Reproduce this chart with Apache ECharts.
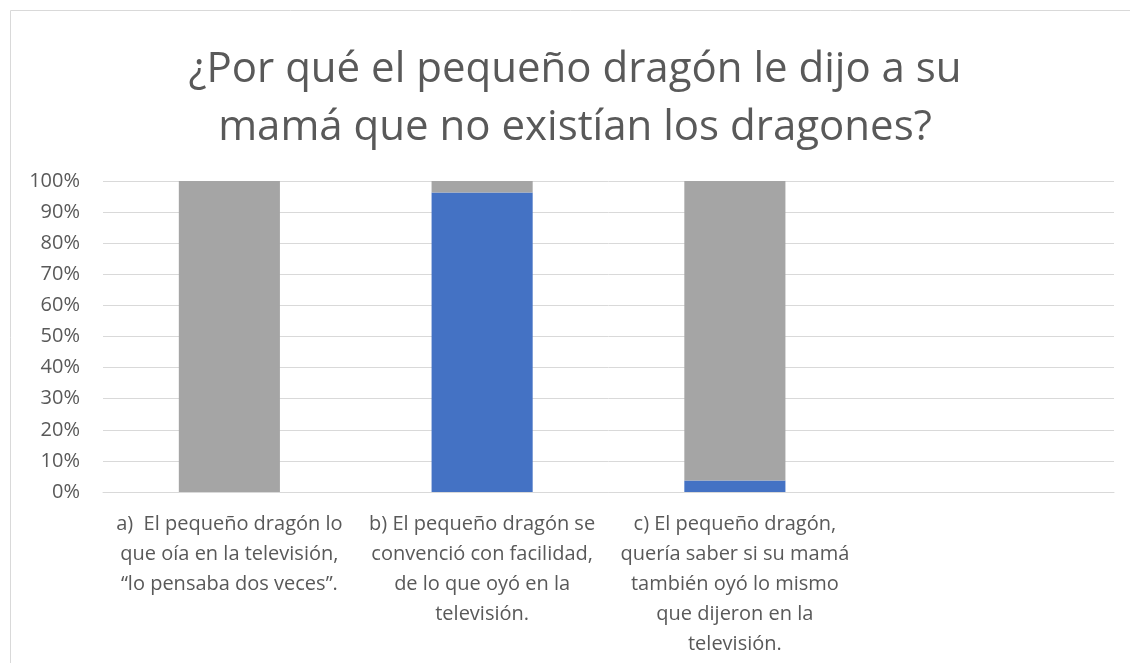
<!DOCTYPE html>
<html><head><meta charset="utf-8">
<script src="https://cdn.jsdelivr.net/npm/echarts@6/dist/echarts.min.js"></script>
<style>html,body{margin:0;padding:0;background:#fff}#c{width:1130px;height:663px}</style>
</head><body><div id="c"></div>
<script>
const titleText = "¿Por qué el pequeño dragón le dijo a su\nmamá que no existían los dragones?";
const categories = [
  "a)  El pequeño dragón lo\nque oía en la televisión,\n“lo pensaba dos veces”.",
  "b) El pequeño dragón se\nconvenció con facilidad,\nde lo que oyó en la\ntelevisión.",
  "c) El pequeño dragón,\nquería saber si su mamá\ntambién oyó lo mismo\nque dijeron en la\ntelevisión.",
  ""
];
const blueValues = [0, 96.3, 3.7, null];
const grayValues = [100, 3.7, 96.3, null];
const yTicks = [0, 10, 20, 30, 40, 50, 60, 70, 80, 90, 100];

const font = "'Open Sans', 'Noto Sans', sans-serif";
const chart = echarts.init(document.getElementById('c'), null, {renderer: 'canvas'});
chart.setOption({
  animation: false,
  textStyle: {fontFamily: font},
  graphic: [{type: 'rect', shape: {x: 10.5, y: 10.5, width: 1200, height: 800}, style: {fill: 'none', stroke: '#d9d9d9', lineWidth: 1}, silent: true}],
  title: {
    text: titleText, left: 570, textAlign: 'center', top: 36,
    textStyle: {fontFamily: font, fontSize: 42, fontWeight: 'normal', color: '#595959', lineHeight: 58}
  },
  grid: {left: 103, right: 16, top: 181, bottom: 171, containLabel: false},
  xAxis: {
    type: 'category', data: categories,
    axisLine: {lineStyle: {color: '#d9d9d9', width: 1}},
    axisTick: {show: false},
    axisLabel: {interval: 0, fontSize: 20, color: '#595959', lineHeight: 30, margin: 17, fontFamily: font}
  },
  yAxis: {
    type: 'value', min: yTicks[0], max: yTicks[yTicks.length - 1], interval: yTicks[1] - yTicks[0],
    axisLine: {show: false}, axisTick: {show: false},
    axisLabel: {formatter: '{value}%', fontSize: 20, color: '#595959', margin: 23, fontFamily: font},
    splitLine: {lineStyle: {color: '#d9d9d9', width: 1}}
  },
  series: [
    {name: 'Serie 1', type: 'bar', stack: 't', data: blueValues, itemStyle: {color: '#4472c4'}, barWidth: '40%'},
    {name: 'Serie 2', type: 'bar', stack: 't', data: grayValues, itemStyle: {color: '#a5a5a5'}, barWidth: '40%'}
  ]
});
</script></body></html>
